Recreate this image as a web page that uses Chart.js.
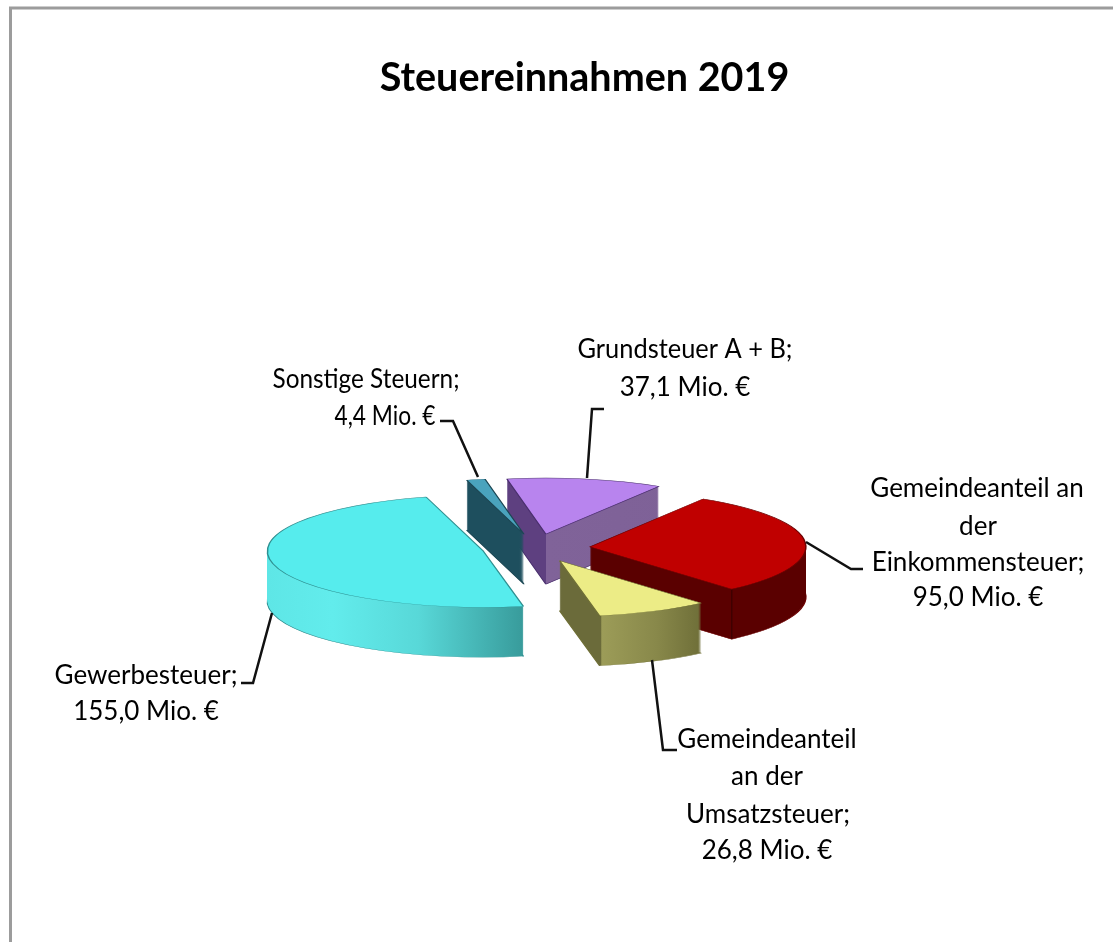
<!DOCTYPE html>
<html>
<head>
<meta charset="utf-8">
<title>Steuereinnahmen 2019</title>
<script src="https://cdn.jsdelivr.net/npm/chart.js@4"></script>
<style>
  html, body { margin: 0; padding: 0; background: #fff; }
  #wrap { width: 1113px; height: 942px; }
</style>
</head>
<body>
<div id="wrap"><canvas id="pie" width="1113" height="942"></canvas></div>
<script>
// values, clockwise from Grundsteuer
const categories = ['Grundsteuer A + B', 'Gemeindeanteil an der Einkommensteuer', 'Gemeindeanteil an der Umsatzsteuer', 'Gewerbesteuer', 'Sonstige Steuern'];
const values = [37.1, 95.0, 26.8, 155.0, 4.4];
const labelLines = [
  ['Grundsteuer A + B;'],
  ['Gemeindeanteil an', 'der', 'Einkommensteuer;'],
  ['Gemeindeanteil', 'an der', 'Umsatzsteuer;'],
  ['Gewerbesteuer;'],
  ['Sonstige Steuern;']
];

// slice look
const topColors = ['#b884ee', '#c00000', '#ecec86', '#56eced', '#4aa3bd'];
const edgeColors = ['#4a2f6e', '#6e0000', '#6f6f36', '#2f8f90', '#1b4653'];
// wall colours: [position across the disc -1..1, colour]
const wallStops = [
  [[-1, '#5e4080'], [0, '#5e4080'], [0, '#806399'], [1, '#7d6096']],
  [[-1, '#5a0000'], [0.655, '#5a0000'], [0.655, '#3c0000'], [0.665, '#5a0000'], [1, '#5a0000']],
  [[-1, '#6b6b3a'], [0.186, '#6b6b3a'], [0.186, '#4e4e28'], [0.196, '#9c9c58'], [0.45, '#88884a'], [0.66, '#6e6e38'], [1, '#6e6e38']],
  [[-1, '#5ee6e6'], [-0.7, '#62ecec'], [-0.3, '#58d8d8'], [0.186, '#389b9b'], [1, '#389b9b']],
  [[-1, '#1e4f5e'], [1, '#1e4f5e']]
];
const drawOrder = [0, 4, 3, 1, 2]; // back to front

// pie geometry on the page
const centerX = 536, centerY = 548;
const radius = 216;
const tilt = 0.26;
const explode = 54;
const depth = 50;

// label layout: one [x, y, max width] per text line
const labelPos = [
  [[685, 350, 215], [685, 388]],
  [[977, 489], [978, 527], [978, 563], [978, 598]],
  [[767, 740], [767, 777], [768, 815], [767, 851]],
  [[146, 676], [146, 712]],
  [[366, 380, 187], [385, 417, 101]]
];
const leaders = [
  [[604, 409], [592, 409], [587, 478]],
  [[806, 542], [851, 569], [863, 569]],
  [[652, 660], [663, 750], [677, 750]],
  [[272, 613], [253, 683], [241, 683]],
  [[440, 421], [453, 421], [478, 477]]
];

function money(v) {
  return v.toFixed(1).replace('.', ',') + ' Mio. €';
}

function wallFill(ctx, arc, stops) {
  const g = ctx.createLinearGradient(arc.x - radius, 0, arc.x + radius, 0);
  stops.forEach((s) => g.addColorStop((s[0] + 1) / 2, s[1]));
  return g;
}

// draws the flat arcs as tilted, exploded blocks
const tiltedPie = {
  id: 'tiltedPie',
  beforeDraw(chart) {
    const ctx = chart.ctx;
    ctx.save();
    ctx.strokeStyle = '#9c9c9c';
    ctx.lineWidth = 3;
    ctx.beginPath();
    ctx.moveTo(10.5, 942);
    ctx.lineTo(10.5, 8);
    ctx.lineTo(1113, 8);
    ctx.stroke();
    ctx.restore();
  },
  beforeDatasetDraw(chart, args) {
    const ctx = chart.ctx;
    const arcs = args.meta.data;
    drawOrder.forEach((i) => {
      const arc = arcs[i];
      const mid = (arc.startAngle + arc.endAngle) / 2;
      const dx = Math.cos(mid) * explode;
      const dy = Math.sin(mid) * explode;
      const saved = arc.options;
      const opts = Object.create(saved);
      arc.options = opts;
      for (let k = depth; k >= 0; k--) {
        ctx.save();
        ctx.translate(centerX, centerY + k);
        ctx.scale(1, tilt);
        ctx.translate(dx - arc.x, dy - arc.y);
        if (k > 0) {
          opts.backgroundColor = wallFill(ctx, arc, wallStops[i]);
          opts.borderWidth = k === depth ? 1.5 : 0;
          opts.borderColor = edgeColors[i];
        } else {
          opts.backgroundColor = topColors[i];
          opts.borderWidth = 1.5;
          opts.borderColor = edgeColors[i];
        }
        arc.draw(ctx);
        ctx.restore();
      }
      arc.options = saved;
    });
    return false;
  },
  afterDraw(chart) {
    const ctx = chart.ctx;
    ctx.save();
    ctx.strokeStyle = '#111';
    ctx.lineWidth = 2.5;
    leaders.forEach((pts) => {
      ctx.beginPath();
      pts.forEach((p, n) => (n ? ctx.lineTo(p[0], p[1]) : ctx.moveTo(p[0], p[1])));
      ctx.stroke();
    });
    ctx.fillStyle = '#000';
    ctx.font = '26px Lato';
    ctx.textAlign = 'center';
    ctx.textBaseline = 'middle';
    labelLines.forEach((lines, i) => {
      lines.concat(money(values[i])).forEach((text, n) => {
        const p = labelPos[i][n];
        ctx.fillText(text, p[0], p[1], p[2] || 400);
      });
    });
    ctx.restore();
  }
};

new Chart(document.getElementById('pie'), {
  type: 'pie',
  data: {
    labels: categories,
    datasets: [{
      data: values,
      backgroundColor: topColors
    }]
  },
  options: {
    responsive: false,
    animation: false,
    rotation: -10.4,
    radius: radius,
    layout: { padding: { left: 56 } },
    plugins: {
      legend: { display: false },
      tooltip: { enabled: false },
      title: {
        display: true,
        text: 'Steuereinnahmen 2019',
        color: '#000',
        font: { family: 'Lato', size: 39.5, weight: 'bold' },
        padding: { top: 55, bottom: 20 }
      }
    }
  },
  plugins: [tiltedPie]
});
</script>
</body>
</html>
